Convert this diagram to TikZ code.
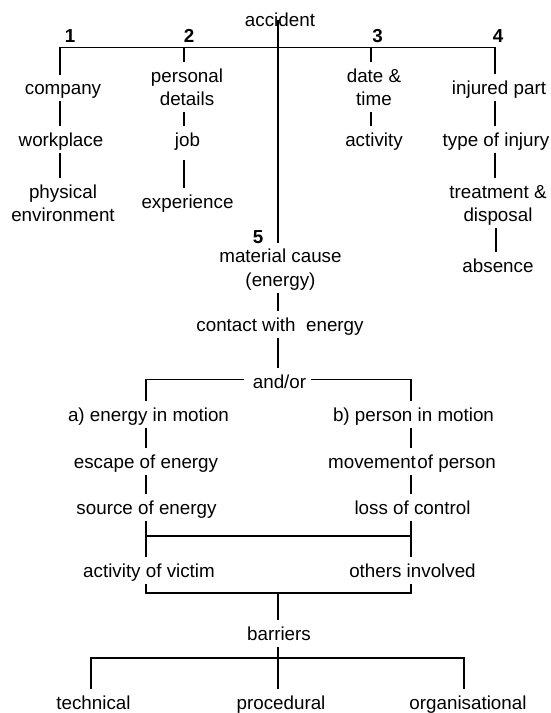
\documentclass[tikz,border=0pt]{standalone}
\usepackage{fontspec}
\setmainfont{Liberation Sans}
\newcommand\topstrut{\rule{0pt}{20pt}}
\newcommand\botstrut{\rule[-6.5pt]{0pt}{6.5pt}}
\begin{document}
\begin{tikzpicture}[x=1pt,y=-1pt,
  lbl/.style={inner sep=0pt, align=center, anchor=north, yshift=20pt,
    font=\fontsize{18.8}{23.5}\selectfont,
    execute at begin node=\topstrut, execute at end node=\botstrut},
  num/.style={inner sep=0pt, anchor=base, font=\fontsize{18.8}{23.5}\selectfont\bfseries},
  conn/.style={line width=1.3pt}]
\useasboundingbox (0,0) rectangle (551,713);
\fill[white] (0,0) rectangle (551,713);

% column positions and junctions
\coordinate (c1) at (60,47.5);
\coordinate (c2) at (184,47.5);
\coordinate (c3) at (371,47.5);
\coordinate (c4) at (495,47.5);
\coordinate (c4b) at (496,230);
\coordinate (cm) at (278,300);
\coordinate (cL) at (146,379);
\coordinate (cR) at (411,379);
\coordinate (jm) at (278,536);
\coordinate (jb) at (278,593);
\coordinate (jt) at (278,658);
\coordinate (ct) at (91,658);
\coordinate (co) at (464,658);

% headline and branch numbers
\node[lbl] (accident) at (280,26.5) {accident};
\node[num] (n1) at (70,42) {1};
\node[num] (n2) at (189,42) {2};
\node[num] (n3) at (377.5,42) {3};
\node[num] (n4) at (498,42) {4};
\node[num] (n5) at (258,243) {5};

% branch 1
\node[lbl] (company) at (63,94.5) {company};
\node[lbl] (workplace) at (61,146) {workplace};
\node[lbl] (physical) at (63,198) {\topstrut physical\\environment\botstrut};
% branch 2
\node[lbl] (personal) at (187,82) {\topstrut personal\\details\botstrut};
\node[lbl] (job) at (187.5,146) {job};
\node[lbl] (experience) at (187.5,208) {experience};
% branch 3
\node[lbl] (date) at (374,82) {\topstrut date \&\\time\botstrut};
\node[lbl] (activity) at (374,146) {activity};
% branch 4
\node[lbl] (injured) at (499,94) {injured part};
\node[lbl] (type) at (496,146) {type of injury};
\node[lbl] (treatment) at (498,198) {\topstrut treatment \&\\disposal\botstrut};
\node[lbl] (absence) at (498,272) {absence};

% branch 5
\node[lbl] (material) at (280.5,262.5) {\topstrut material cause\\(energy)\botstrut};
\node[lbl] (contact) at (280,331) {contact with \ energy};
\node[lbl] (andor) at (279.5,388) {and/or};
\node[lbl] (amotion) at (148.5,421) {a) energy in motion};
\node[lbl] (escape) at (146,468) {escape of energy};
\node[lbl] (source) at (146.5,514) {source of energy};
\node[lbl] (victim) at (149,577) {activity of victim};
\node[lbl] (bmotion) at (413.5,421) {b) person in motion};
\node[lbl] (movement) at (412,468) {movement\kern1.5pt of person};
\node[lbl] (loss) at (412.5,514) {loss of control};
\node[lbl] (others) at (412.5,577) {others involved};
\node[lbl] (barriers) at (279,640) {barriers};
\node[lbl] (technical) at (93.5,709) {technical};
\node[lbl] (procedural) at (281,709) {procedural};
\node[lbl] (organisational) at (468,709) {organisational};

% top bar and branches
\draw[conn] (company.north -| c1) -- (c1) -- (c4) -- (injured.north -| c4);
\draw[conn] (c2) -- (personal.north -| c2);
\draw[conn] (c3) -- (date.north -| c3);
\draw[conn] (accident.base -| cm) ++(0,-6.5) -- (material.north -| cm);

\draw[conn] (company.south -| c1) -- (workplace.north -| c1);
\draw[conn] (workplace.south -| c1) -- (physical.north -| c1);
\draw[conn] (personal.south -| c2) -- (job.north -| c2);
\draw[conn] (job.south -| c2) ++(0,7) -- (experience.north -| c2);
\draw[conn] (date.south -| c3) -- (activity.north -| c3);
\draw[conn] (injured.south -| c4) -- (type.north -| c4);
\draw[conn] (type.south -| c4) -- (treatment.north -| c4);
\draw[conn] (treatment.south -| c4b) -- (absence.north -| c4b);

% material cause chain
\draw[conn] (material.south -| cm) -- (contact.north -| cm);
\draw[conn] (contact.south -| cm) -- (andor.north -| cm);
\draw[conn] (andor.base west) ++(-9,-9) -| (amotion.north -| cL);
\draw[conn] (andor.base east) ++(5,-9) -| (bmotion.north -| cR);

\draw[conn] (amotion.south -| cL) -- (escape.north -| cL);
\draw[conn] (escape.south -| cL) -- (source.north -| cL);
\draw[conn] (source.south -| cL) -- (victim.north -| cL);
\draw[conn] (bmotion.south -| cR) -- (movement.north -| cR);
\draw[conn] (movement.south -| cR) -- (loss.north -| cR);
\draw[conn] (loss.south -| cR) -- (others.north -| cR);
\draw[conn] (jm -| cL) -- (jm -| cR);

\draw[conn] (victim.south -| cL) |- (jb) -| (others.south -| cR);
\draw[conn] (jb) -- (barriers.north -| jb);
\draw[conn] (barriers.south -| jt) -- (procedural.north -| jt);
\draw[conn] (technical.north -| ct) |- (jt) -| (organisational.north -| co);
\end{tikzpicture}
\end{document}
